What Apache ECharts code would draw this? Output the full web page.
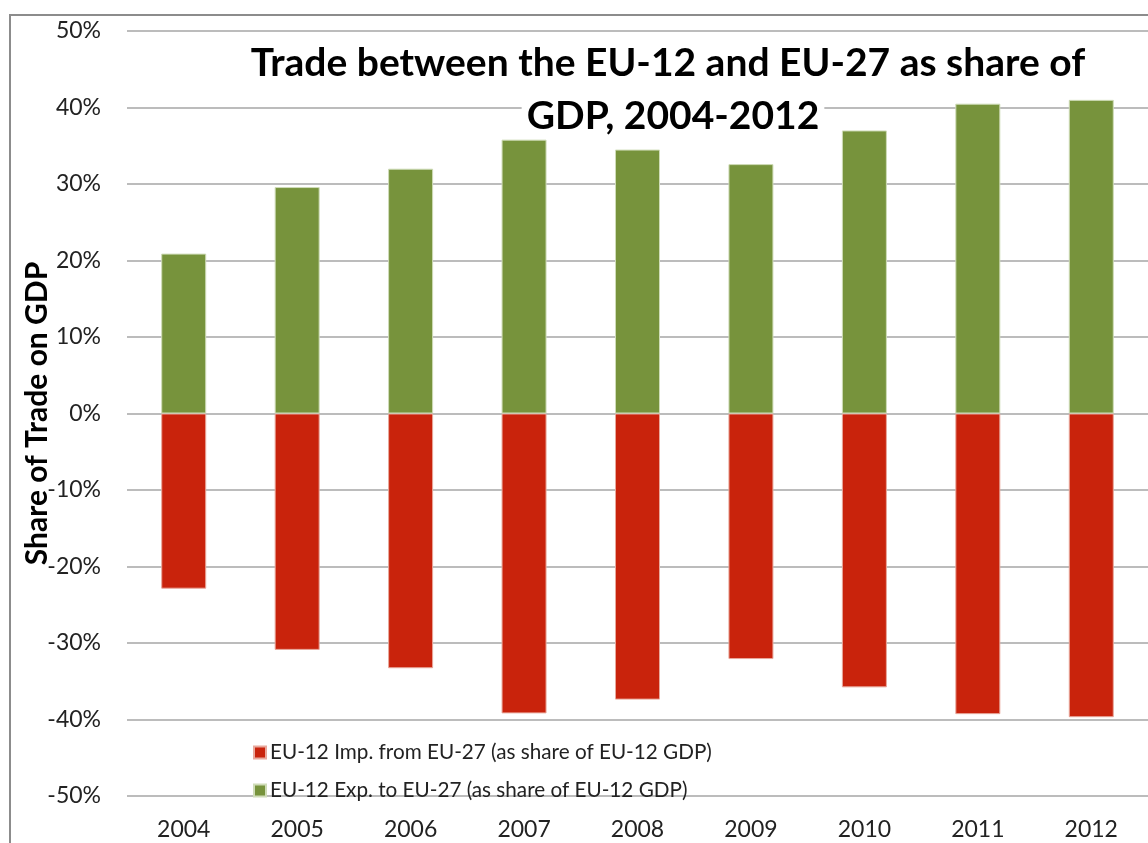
<!DOCTYPE html>
<html><head><meta charset="utf-8">
<script src="https://cdn.jsdelivr.net/npm/echarts@6/dist/echarts.min.js"></script>
<style>html,body{margin:0;padding:0;background:#fff}#c{width:1148px;height:843px}</style>
</head><body><div id="c"></div>
<script>
const years = ['2004','2005','2006','2007','2008','2009','2010','2011','2012'];
const imports = [-22.9,-30.9,-33.3,-39.2,-37.4,-32.1,-35.8,-39.3,-39.7];
const exports = [20.9,29.6,32.0,35.8,34.5,32.6,37.0,40.5,41.0];
const yTicks = {min:-50, max:50, interval:10};
const titleLines = ['Trade between the EU-12 and EU-27 as share of','GDP, 2004-2012'];
const importName = 'EU-12 Imp. from EU-27 (as share of EU-12 GDP)';
const exportName = 'EU-12 Exp. to EU-27 (as share of EU-12 GDP)';
const FONT = 'Lato';
const chart = echarts.init(document.getElementById('c'), null, {renderer:'canvas'});
const titleStyle = {fontFamily:FONT,fontWeight:'bold',fontSize:39,lineHeight:42,color:'#000'};
chart.setOption({
  animation:false,
  backgroundColor:'#fff',
  graphic:[{type:'rect',shape:{x:10,y:15,width:1200,height:900},style:{fill:'none',stroke:'#8c8c8c',lineWidth:2},z:-1}],
  title:[
    {text:titleLines[0],left:668,top:42,textAlign:'center',padding:0,z:1,textStyle:titleStyle},
    {text:titleLines[1],left:668,top:95,textAlign:'center',padding:[0,5],z:1,backgroundColor:'#fff',textStyle:titleStyle}
  ],
  grid:{left:127,right:0,top:31,bottom:47},
  legend:{orient:'vertical',left:248,top:737,itemWidth:12,itemHeight:12,itemGap:17,
    textStyle:{fontFamily:FONT,fontSize:20.7,color:'#222',padding:[0,0,0,-1]},
    data:[{name:importName,icon:'rect'},{name:exportName,icon:'rect'}]},
  xAxis:{type:'category',data:years,axisLine:{show:false},axisTick:{show:false},
    axisLabel:{fontFamily:FONT,fontSize:23,color:'#222',margin:22}},
  yAxis:{type:'value',min:yTicks.min,max:yTicks.max,interval:yTicks.interval,
    axisLabel:{formatter:'{value}%',fontFamily:FONT,fontSize:23,color:'#222',margin:26},
    splitLine:{lineStyle:{color:'#a6a6a6',width:1.5}},axisLine:{show:false},axisTick:{show:false},
    name:'Share of Trade on GDP',nameLocation:'middle',nameGap:75,nameRotate:90,nameMoveOverlap:false,
    nameTextStyle:{fontFamily:FONT,fontWeight:'bold',fontSize:30,color:'#000'}},
  series:[
    {name:importName,type:'bar',data:imports,barWidth:45,barGap:'-100%',
      itemStyle:{color:'#C9230C',borderColor:'#e8a89c',borderWidth:1}},
    {name:exportName,type:'bar',data:exports,barWidth:45,
      itemStyle:{color:'#77933C',borderColor:'#cfdcb8',borderWidth:1}}
  ]
});
</script></body></html>
